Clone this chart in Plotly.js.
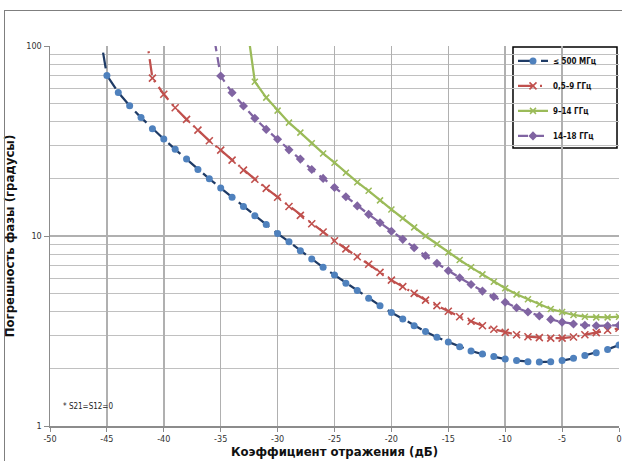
<!DOCTYPE html>
<html>
<head>
<meta charset="utf-8">
<script src="https://cdn.plot.ly/plotly-3.0.1.min.js"></script>
<style>
html,body{margin:0;padding:0;background:#fff;overflow:hidden;}
#chart{width:622px;height:461px;}
</style>
</head>
<body>
<div id="chart"></div>
<script>
// Reflection coefficient (dB)
const xBlue   = [-46,-45,-44,-43,-42,-41,-40,-39,-38,-37,-36,-35,-34,-33,-32,-31,-30,-29,-28,-27,-26,-25,-24,-23,-22,-21,-20,-19,-18,-17,-16,-15,-14,-13,-12,-11,-10,-9,-8,-7,-6,-5,-4,-3,-2,-1,0];
const yBlue   = [160,70,57,48.5,42,36.7,32.4,28.6,25.4,22.4,20.0,17.9,16.0,14.3,12.8,11.5,10.3,9.33,8.37,7.57,6.84,6.24,5.64,5.16,4.70,4.30,3.96,3.66,3.37,3.14,2.93,2.77,2.61,2.48,2.39,2.32,2.25,2.21,2.18,2.17,2.18,2.21,2.27,2.35,2.43,2.53,2.67];

const xRed    = [-42,-41,-40,-39,-38,-37,-36,-35,-34,-33,-32,-31,-30,-29,-28,-27,-26,-25,-24,-23,-22,-21,-20,-19,-18,-17,-16,-15,-14,-13,-12,-11,-10,-9,-8,-7,-6,-5,-4,-3,-2,-1,0];
const yRed    = [175,67.7,55.7,47.3,41.1,36.1,31.7,28.3,25.1,22.2,19.9,17.8,16.0,14.3,12.85,11.6,10.5,9.44,8.55,7.78,7.10,6.44,5.86,5.41,4.99,4.60,4.30,4.02,3.76,3.56,3.37,3.23,3.11,3.02,2.95,2.92,2.90,2.90,2.94,3.02,3.10,3.19,3.27];

const xGreen  = [-33,-32,-31,-30,-29,-28,-27,-26,-25,-24,-23,-22,-21,-20,-19,-18,-17,-16,-15,-14,-13,-12,-11,-10,-9,-8,-7,-6,-5,-4,-3,-2,-1,0];
const yGreen  = [175,64.9,53.5,45.7,39.5,35.0,30.8,27.2,24.3,21.5,19.2,17.3,15.4,13.8,12.4,11.1,10.0,9.08,8.2,7.48,6.84,6.28,5.75,5.31,4.93,4.65,4.37,4.13,3.98,3.84,3.76,3.73,3.73,3.76];

const xPurple = [-36,-35,-34,-33,-32,-31,-30,-29,-28,-27,-26,-25,-24,-23,-22,-21,-20,-19,-18,-17,-16,-15,-14,-13,-12,-11,-10,-9,-8,-7,-6,-5,-4,-3,-2,-1,0];
const yPurple = [155,69.5,56.8,48.3,41.6,36.4,32.3,28.4,25.4,22.4,20.1,18.0,16.1,14.4,13.0,11.75,10.6,9.6,8.68,7.87,7.18,6.56,6.03,5.56,5.13,4.79,4.48,4.19,3.98,3.79,3.64,3.52,3.44,3.39,3.37,3.37,3.39];

const seriesNames = ["≤ 500 МГц", "0,5–9 ГГц", "9–14 ГГц", "14–18 ГГц"];
const xTickVals = [-50,-45,-40,-35,-30,-25,-20,-15,-10,-5,0];
const xTickText = ["-50","-45","-40","-35","-30","-25","-20","-15","-10","-5","0"];
const yTickVals = [1,10,100];
const yTickText = ["1","10","100"];
const yMinorVals = [2,3,4,5,6,7,8,9,20,30,40,50,60,70,80,90];

const FONT = "'Liberation Sans Narrow', 'Arial Narrow', 'DejaVu Sans Condensed', sans-serif";

const traces = [
  {x:xBlue, y:yBlue, name:seriesNames[0], legendgroup:'a', mode:'lines+markers', type:'scatter',
   line:{color:'#1F3B66', width:2.25, dash:'16px,7px'},
   marker:{symbol:'circle', size:7, color:'#4F81BD', line:{width:0}}},
  {x:xRed, y:yRed, name:seriesNames[1], legendgroup:'b', mode:'lines+markers', type:'scatter',
   line:{color:'#C0504D', width:2.25, dash:'16px,6px,2px,6px'},
   marker:{symbol:'x-thin-open', size:7, color:'#C0504D', line:{width:1.6, color:'#C0504D'}}},
  {x:xGreen, y:yGreen, name:seriesNames[2], legendgroup:'c', mode:'lines+markers', type:'scatter',
   line:{color:'#9BBB59', width:2.25},
   marker:{symbol:'x-thin-open', size:6, color:'#9BBB59', line:{width:1.5, color:'#9BBB59'}}},
  {x:xPurple, y:yPurple, name:seriesNames[3], legendgroup:'d', mode:'lines+markers', type:'scatter',
   line:{color:'#8064A2', width:2.25, dash:'10px,6px'},
   marker:{symbol:'diamond', size:7, color:'#8064A2', line:{width:0}}}
];

const layout = {
  width:622, height:461,
  margin:{l:50, r:3, t:46, b:35},
  paper_bgcolor:'#ffffff', plot_bgcolor:'#ffffff',
  font:{family:FONT, size:9, color:'#333333'},
  showlegend:true,
  legend:{x:0.8137, y:0.999, xanchor:'left', yanchor:'top',
    bgcolor:'rgba(0,0,0,0)', borderwidth:0,
    font:{family:FONT, size:8, color:'#111111', weight:'bold'},
    tracegroupgap:6, itemwidth:30},
  xaxis:{range:[-50,0], tickmode:'array', tickvals:xTickVals, ticktext:xTickText,
    showgrid:true, gridcolor:'#b0b0b0', gridwidth:1.5,
    showline:true, linecolor:'#8c8c8c', linewidth:1.5,
    ticks:'outside', ticklen:4, tickcolor:'#8c8c8c', zeroline:false,
    tickfont:{family:FONT, size:9, color:'#333333'},
    title:{text:'<b>Коэффициент отражения (дБ)</b>', font:{family:FONT, size:13, color:'#111111'}, standoff:2}},
  yaxis:{type:'log', range:[0,2], tickmode:'array', tickvals:yTickVals, ticktext:yTickText,
    showgrid:true, gridcolor:'#b0b0b0', gridwidth:1.5,
    minor:{tickmode:'array', tickvals:yMinorVals, showgrid:true, gridcolor:'#c0c0c0', gridwidth:1.2, ticks:''},
    showline:true, linecolor:'#8c8c8c', linewidth:1.5,
    ticks:'outside', ticklen:5, tickcolor:'#8c8c8c', zeroline:false,
    tickfont:{family:FONT, size:9, color:'#333333'},
    title:{text:'<b>Погрешность фазы (градусы)</b>', font:{family:FONT, size:13, color:'#111111'}, standoff:8}},
  annotations:[
    {xref:'paper', yref:'paper', x:0.019, y:0.0526, xanchor:'left', yanchor:'middle',
     text:'* S21=S12=0', showarrow:false, font:{family:FONT, size:8, color:'#222222'}},
    {xref:'paper', yref:'paper', x:-0.0808, y:1.0947, xanchor:'left', yanchor:'top',
     text:' ', showarrow:false, width:700, height:560, borderpad:0,
     bordercolor:'#7f7f7f', borderwidth:1, bgcolor:'rgba(0,0,0,0)', captureevents:false}
  ],
  shapes:[
    {type:'rect', xref:'paper', yref:'paper', x0:0.8137, x1:0.9965, y0:0.7316, y1:0.9974,
     line:{color:'#000000', width:1.5}, fillcolor:'#ffffff', layer:'below'}
  ]
};

Plotly.newPlot('chart', traces, layout, {staticPlot:true, displayModeBar:false});
</script>
</body>
</html>
